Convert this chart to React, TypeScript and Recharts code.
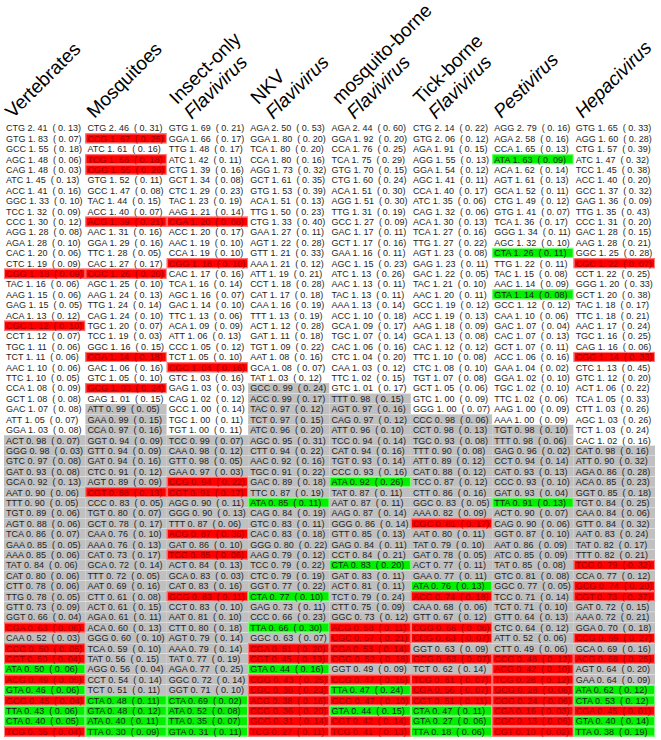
import { BarChart, Bar, XAxis, YAxis } from 'recharts';

// header labels (top line, main line)
const headerTop = ['', '', 'Insect-only', 'NKV', 'mosquito-borne', 'Tick-borne', '', ''];
const headerMain = ['Vertebrates', 'Mosquitoes', 'Flavivirus', 'Flavivirus', 'Flavivirus', 'Flavivirus', 'Pestivirus', 'Hepacivirus'];
const headerItalic = [false, false, true, true, true, true, true, true];

const vertebratesCodons = ['CTG','GTG','GCC','AGC','CAG','ATC','ACC','GGC','TCC','CCC','AGG','AGA','CAC','CTC','CGG','TAC','AAG','GAG','ACA','CGC','CCT','TGC','TCT','AAC','TTC','CCA','GCT','GAC','ATT','GGA','ACT','GGG','GTC','GAT','GCA','AAT','TTT','TGT','AGT','TCA','GAA','AAA','TAT','CAT','CTT','TTG','GTT','GGT','CGA','CAA','CCG','CGT','ATA','ACG','GTA','GCG','TTA','CTA','TCG'];
const vertebratesRscu = [2.41,1.83,1.55,1.48,1.48,1.45,1.41,1.33,1.32,1.30,1.28,1.28,1.20,1.19,1.18,1.16,1.15,1.15,1.13,1.12,1.12,1.11,1.11,1.10,1.10,1.08,1.08,1.07,1.05,1.03,0.98,0.98,0.97,0.93,0.92,0.90,0.90,0.89,0.88,0.86,0.85,0.85,0.84,0.80,0.78,0.78,0.73,0.66,0.63,0.52,0.50,0.50,0.50,0.49,0.46,0.45,0.43,0.40,0.35];
const vertebratesSd = [0.13,0.07,0.18,0.06,0.03,0.13,0.16,0.10,0.09,0.12,0.08,0.10,0.06,0.09,0.09,0.06,0.06,0.05,0.12,0.10,0.07,0.06,0.06,0.06,0.05,0.09,0.08,0.08,0.07,0.08,0.07,0.03,0.08,0.08,0.13,0.06,0.05,0.06,0.06,0.07,0.05,0.06,0.06,0.06,0.06,0.05,0.09,0.04,0.06,0.03,0.05,0.04,0.06,0.05,0.06,0.04,0.06,0.05,0.04];

const mosquitoCodons = ['CTG','CCG','ATC','TCG','CGG','GTG','GCC','TAC','ACC','ACG','AAC','GGA','TTC','CAC','CGC','AGC','AAG','TTG','CAG','TGC','TCC','GGC','CGA','GAC','GTC','GCG','GAG','ATT','GAA','CCA','GGT','GTT','GAT','CTC','AGT','CGT','CCC','TGT','GCT','CAA','AAA','CAT','GCA','TTT','AAT','CTT','ACT','AGA','ACA','GGG','TCA','TAT','AGG','CCT','TCT','CTA','GTA','ATA','TTA'];
const mosquitoRscu = [2.46,1.67,1.61,1.56,1.55,1.52,1.47,1.44,1.40,1.39,1.31,1.29,1.28,1.27,1.26,1.25,1.24,1.24,1.24,1.20,1.19,1.16,1.14,1.06,1.05,1.03,1.01,0.99,0.99,0.97,0.94,0.94,0.94,0.91,0.89,0.88,0.83,0.80,0.78,0.76,0.76,0.73,0.72,0.72,0.69,0.61,0.61,0.61,0.60,0.60,0.59,0.56,0.56,0.54,0.51,0.48,0.48,0.40,0.30];
const mosquitoSd = [0.31,0.25,0.16,0.18,0.26,0.11,0.08,0.15,0.07,0.21,0.16,0.16,0.05,0.17,0.20,0.10,0.13,0.14,0.10,0.07,0.03,0.15,0.18,0.16,0.10,0.24,0.15,0.05,0.15,0.16,0.09,0.09,0.16,0.12,0.09,0.13,0.05,0.07,0.17,0.10,0.13,0.17,0.14,0.05,0.16,0.08,0.15,0.11,0.13,0.10,0.10,0.15,0.04,0.14,0.11,0.11,0.12,0.11,0.09];

const insectCodons = ['GTG','GGA','TTG','ATC','CTG','GCT','CTC','TAC','AAG','CGA','ACC','AAC','CCA','CGG','CAC','TCA','AGC','GAC','TTC','ACA','ATT','CCC','TCT','CGC','GTC','GAG','CAG','GCC','TGC','TGT','TCC','CAA','GTT','GAA','CCG','CGT','AGG','GGG','TTT','ACG','GAT','TCG','ACT','GCA','CAT','GCG','CCT','AAT','CTT','AGT','AAA','TAT','AGA','GGC','GGT','CTA','ATA','TTA','GTA'];
const insectRscu = [1.69,1.66,1.48,1.42,1.39,1.34,1.29,1.23,1.21,1.20,1.20,1.19,1.19,1.18,1.17,1.16,1.16,1.14,1.13,1.09,1.06,1.05,1.05,1.04,1.03,1.03,1.02,1.00,1.00,1.00,0.99,0.98,0.98,0.97,0.94,0.91,0.90,0.90,0.87,0.87,0.86,0.85,0.84,0.83,0.83,0.83,0.83,0.81,0.80,0.79,0.79,0.77,0.77,0.72,0.71,0.69,0.52,0.35,0.31];
const insectSd = [0.21,0.17,0.17,0.11,0.16,0.08,0.23,0.19,0.14,0.08,0.17,0.10,0.10,0.10,0.16,0.14,0.07,0.10,0.06,0.09,0.13,0.12,0.10,0.16,0.16,0.03,0.12,0.14,0.11,0.11,0.07,0.12,0.05,0.03,0.22,0.17,0.11,0.13,0.06,0.36,0.10,0.06,0.13,0.03,0.16,0.11,0.10,0.10,0.18,0.14,0.14,0.19,0.25,0.14,0.10,0.02,0.08,0.07,0.11];

const nkvCodons = ['AGA','GGA','TCA','CCA','AGG','GCT','GTG','ACA','TTG','CTG','GAA','AGT','GTT','AAA','ATT','CCT','CAT','CAA','TTT','ACT','GAT','TGT','AAT','GCA','TAT','GCC','ACC','TAC','TCT','ATC','AGC','CTT','AAC','TGC','GAC','TTC','ATA','CAG','GTC','CAC','GGG','AAG','TCC','CTC','GGT','CTA','GAG','CCC','TTA','GGC','CGA','CGT','GTA','CGG','CGC','ACG','CCG','GCG','TCG'];
const nkvRscu = [2.50,1.80,1.80,1.80,1.73,1.61,1.53,1.51,1.50,1.33,1.27,1.22,1.21,1.21,1.19,1.18,1.17,1.16,1.13,1.12,1.11,1.09,1.08,1.08,1.03,0.99,0.99,0.97,0.97,0.96,0.95,0.94,0.92,0.91,0.89,0.87,0.85,0.84,0.83,0.83,0.80,0.79,0.79,0.79,0.77,0.77,0.73,0.66,0.66,0.63,0.51,0.45,0.44,0.43,0.38,0.38,0.36,0.31,0.27];
const nkvSd = [0.53,0.20,0.20,0.16,0.32,0.35,0.39,0.13,0.23,0.40,0.11,0.28,0.33,0.12,0.21,0.28,0.18,0.19,0.19,0.28,0.18,0.22,0.16,0.07,0.12,0.24,0.17,0.12,0.15,0.20,0.31,0.22,0.16,0.22,0.18,0.19,0.11,0.19,0.11,0.18,0.22,0.12,0.22,0.19,0.22,0.10,0.11,0.23,0.30,0.07,0.20,0.13,0.16,0.25,0.23,0.16,0.20,0.14,0.11];

const mbfvCodons = ['AGA','GGA','CCA','TCA','GTG','CTG','ACA','AGG','TTG','GCC','GAC','GCT','GAA','AGC','ATC','AAC','TAC','AAA','ACC','GCA','TGC','CAC','CTC','CAA','TTC','GTC','TTT','AGT','CAG','ATT','TCC','CAT','TGT','CCC','ATA','TAT','AAT','AAG','GGG','GTT','GAG','CCT','CTA','GAT','ACT','TCT','CTT','GGC','ACG','CGC','CGA','CGG','GGT','CCG','TTA','GCG','GTA','CGT','TCG'];
const mbfvRscu = [2.44,1.92,1.76,1.75,1.70,1.60,1.51,1.51,1.31,1.27,1.17,1.17,1.16,1.15,1.13,1.13,1.13,1.13,1.10,1.09,1.07,1.06,1.04,1.03,1.02,1.01,0.98,0.97,0.97,0.96,0.94,0.94,0.93,0.93,0.92,0.87,0.87,0.87,0.86,0.85,0.84,0.84,0.83,0.83,0.81,0.79,0.75,0.73,0.58,0.57,0.53,0.52,0.49,0.47,0.47,0.47,0.44,0.42,0.41];
const mbfvSd = [0.60,0.20,0.25,0.29,0.15,0.24,0.30,0.30,0.19,0.09,0.11,0.16,0.11,0.23,0.26,0.11,0.11,0.14,0.18,0.17,0.14,0.16,0.20,0.12,0.15,0.17,0.15,0.16,0.12,0.10,0.14,0.16,0.14,0.16,0.26,0.11,0.11,0.14,0.14,0.13,0.11,0.21,0.20,0.11,0.11,0.24,0.09,0.12,0.11,0.21,0.14,0.18,0.09,0.15,0.24,0.10,0.15,0.14,0.13];

const tbfvCodons = ['CTG','GTG','AGA','AGG','GGA','AGC','CCA','ATC','CAG','ACA','TCA','TTG','AGT','GAG','GAC','TAC','AAC','GCC','ACC','AAG','GCA','CAC','TTC','CTC','TGT','GCT','GTC','GGG','CCC','CCT','TGC','TTT','ATT','CAT','TCC','CTT','GGC','AAA','CGC','AAT','TAT','GAT','ACT','GAA','ATA','ACG','CAA','GTT','CGG','CCG','GGT','GCG','TCT','TCG','CGA','CGT','CTA','GTA','TTA'];
const tbfvRscu = [2.14,2.06,1.91,1.55,1.54,1.41,1.40,1.35,1.32,1.30,1.27,1.27,1.23,1.23,1.22,1.21,1.20,1.19,1.19,1.18,1.13,1.12,1.10,1.08,1.07,1.05,1.00,1.00,0.98,0.98,0.93,0.90,0.89,0.88,0.87,0.86,0.83,0.82,0.81,0.80,0.79,0.78,0.77,0.77,0.76,0.74,0.68,0.67,0.66,0.63,0.63,0.63,0.62,0.61,0.56,0.51,0.47,0.27,0.18];
const tbfvSd = [0.22,0.12,0.15,0.13,0.12,0.11,0.17,0.06,0.06,0.13,0.16,0.22,0.08,0.11,0.05,0.10,0.11,0.12,0.13,0.09,0.08,0.12,0.08,0.10,0.08,0.06,0.09,0.07,0.06,0.13,0.08,0.08,0.12,0.12,0.12,0.16,0.05,0.09,0.17,0.11,0.10,0.05,0.11,0.11,0.13,0.18,0.06,0.12,0.08,0.07,0.09,0.07,0.14,0.07,0.07,0.11,0.11,0.06,0.06];

const pestiCodons = ['AGG','AGA','CCA','ATA','ACA','AGT','GCA','CTG','GTG','TCA','GGG','AGC','CTA','TTG','TAC','AAC','GTA','GCC','CAA','GAC','CAC','GCT','ACC','GAA','GGA','TGC','TTC','AAG','AAA','TGT','TTT','GAG','CCT','CAT','CCC','GAT','TTA','ACT','CAG','GGT','AAT','ATC','TAT','GTC','GGC','TCC','TCT','GTT','CTC','ATT','CTT','CCG','ACG','TCG','GCG','CGG','CGA','CGC','CGT'];
const pestiRscu = [2.79,2.58,1.65,1.63,1.62,1.61,1.52,1.49,1.41,1.36,1.34,1.32,1.26,1.22,1.15,1.14,1.14,1.12,1.10,1.07,1.07,1.07,1.06,1.04,1.02,1.02,1.02,1.00,1.00,0.98,0.98,0.96,0.94,0.93,0.93,0.93,0.91,0.90,0.90,0.87,0.86,0.85,0.85,0.81,0.77,0.71,0.71,0.64,0.64,0.52,0.49,0.48,0.42,0.28,0.28,0.24,0.16,0.13,0.10];
const pestiSd = [0.16,0.16,0.13,0.09,0.14,0.13,0.11,0.12,0.07,0.17,0.11,0.10,0.11,0.11,0.08,0.09,0.08,0.12,0.06,0.04,0.13,0.11,0.16,0.02,0.10,0.10,0.06,0.09,0.09,0.10,0.06,0.02,0.14,0.13,0.10,0.04,0.13,0.07,0.06,0.10,0.09,0.09,0.08,0.08,0.05,0.14,0.10,0.13,0.12,0.06,0.06,0.12,0.10,0.12,0.08,0.06,0.03,0.06,0.02];

const hepaciCodons = ['GTG','AGG','CTG','ATC','TCC','ACC','GCC','GAG','TTG','CCC','GAC','AAG','GGC','CGC','CCT','GGG','GCT','TAC','TTC','AAC','TGC','CAG','CGG','CTC','GTC','ACT','TCA','CTT','AGC','TCT','CAC','CAT','ATT','AGA','ACA','GGT','TGT','CAA','GTT','AAT','TAT','TTT','TCG','CCA','GCG','CGT','GAT','AAA','GGA','CCG','GCA','ACG','AGT','GAA','ATA','CTA','CGA','GTA','TTA'];
const hepaciRscu = [1.65,1.60,1.57,1.47,1.45,1.40,1.37,1.36,1.35,1.31,1.28,1.28,1.25,1.22,1.22,1.20,1.20,1.18,1.18,1.17,1.16,1.16,1.14,1.13,1.12,1.06,1.05,1.03,1.03,1.03,1.02,0.98,0.90,0.86,0.85,0.85,0.84,0.84,0.84,0.83,0.82,0.82,0.79,0.77,0.74,0.73,0.72,0.72,0.70,0.69,0.69,0.68,0.64,0.64,0.62,0.53,0.45,0.40,0.38];
const hepaciSd = [0.33,0.28,0.39,0.32,0.38,0.20,0.32,0.09,0.43,0.20,0.15,0.21,0.28,0.07,0.25,0.33,0.38,0.17,0.21,0.24,0.25,0.06,0.33,0.45,0.20,0.22,0.33,0.26,0.26,0.24,0.16,0.16,0.32,0.28,0.23,0.18,0.25,0.06,0.32,0.24,0.17,0.21,0.32,0.12,0.20,0.37,0.15,0.21,0.18,0.27,0.16,0.25,0.20,0.09,0.12,0.12,0.01,0.14,0.19];

const columns = [
  { codons: vertebratesCodons, rscu: vertebratesRscu, sd: vertebratesSd },
  { codons: mosquitoCodons, rscu: mosquitoRscu, sd: mosquitoSd },
  { codons: insectCodons, rscu: insectRscu, sd: insectSd },
  { codons: nkvCodons, rscu: nkvRscu, sd: nkvSd },
  { codons: mbfvCodons, rscu: mbfvRscu, sd: mbfvSd },
  { codons: tbfvCodons, rscu: tbfvRscu, sd: tbfvSd },
  { codons: pestiCodons, rscu: pestiRscu, sd: pestiSd },
  { codons: hepaciCodons, rscu: hepaciRscu, sd: hepaciSd },
];

const rows = vertebratesCodons.map((_, i) => ({ rank: i + 1 }));

const fontFamily = '"Liberation Sans", Arial, sans-serif';

// "1.48" -> "1. 48", like the original typesetting
const spaced = (v: number) => {
  const s = v.toFixed(2);
  return s.slice(0, 2) + ' ' + s.slice(2);
};

const cellShape = (col: number) => (props: any) => {
  const { x, y, width, height, payload } = props;
  const i = payload.rank - 1;
  const c = columns[col];
  const codon = c.codons[i];
  const v = c.rscu[i];
  const isCpG = codon.includes('CG');
  const isUpA = codon.endsWith('TA');
  let fill = v < 1 ? '#c0c0c0' : '#ffffff';
  let stroke = 'none';
  let textFill = '#1e1e1e';
  if (isCpG) {
    fill = '#ff0000';
    stroke = '#ff8080';
    textFill = '#a00000';
  } else if (isUpA) {
    fill = '#00f000';
    stroke = '#80ff80';
  }
  return (
    <g>
      <rect x={x} y={y} width={width} height={height} fill={fill} stroke="none" />
      {stroke !== 'none' && (
        <rect x={x + 0.5} y={y + 0.5} width={width - 1} height={height - 1} fill="none" stroke={stroke} strokeWidth={1} />
      )}
      <text x={x + 2} y={y + height / 2 + 3.3} fontSize={9} fontFamily={fontFamily} fill={textFill} style={{ whiteSpace: 'pre' }}>
        {`${codon} ${spaced(v)}  ( ${spaced(c.sd[i])})`}
      </text>
    </g>
  );
};

const HeaderTick = (props: any) => {
  const { x, payload } = props;
  const col = payload.value as number;
  const top = headerTop[col];
  const style = { fontSize: 19, fontFamily, fill: '#000' };
  if (!top) {
    return (
      <g transform={`translate(${x + 9}, 119) rotate(-45)`}>
        <text x={0} y={0} {...style} fontStyle={headerItalic[col] ? 'italic' : 'normal'}>{headerMain[col]}</text>
      </g>
    );
  }
  return (
    <g transform={`translate(${x + 25}, 120) rotate(-45)`}>
      <text x={0} y={-21} {...style}>{top}</text>
      <text x={0} y={0} {...style} fontStyle={headerItalic[col] ? 'italic' : 'normal'}>{headerMain[col]}</text>
    </g>
  );
};

export default function App() {
  return (
    <div style={{ width: 661, height: 740, background: '#fff' }}>
      <style>{'body{margin:0}'}</style>
      <BarChart
        width={661}
        height={740}
        data={rows}
        layout="vertical"
        barCategoryGap={0}
        margin={{ top: 0, right: 6, bottom: 3, left: 4 }}
      >
        <XAxis
          type="number"
          domain={[0, 8]}
          orientation="top"
          height={123}
          ticks={headerMain.map((_, i) => i)}
          interval={0}
          tick={<HeaderTick />}
          axisLine={false}
          tickLine={false}
        />
        <YAxis type="category" dataKey="rank" hide />
        {columns.map((_, col) => (
          <Bar
            key={col}
            dataKey={() => 1}
            stackId="table"
            shape={cellShape(col)}
            isAnimationActive={false}
          />
        ))}
      </BarChart>
    </div>
  );
}
